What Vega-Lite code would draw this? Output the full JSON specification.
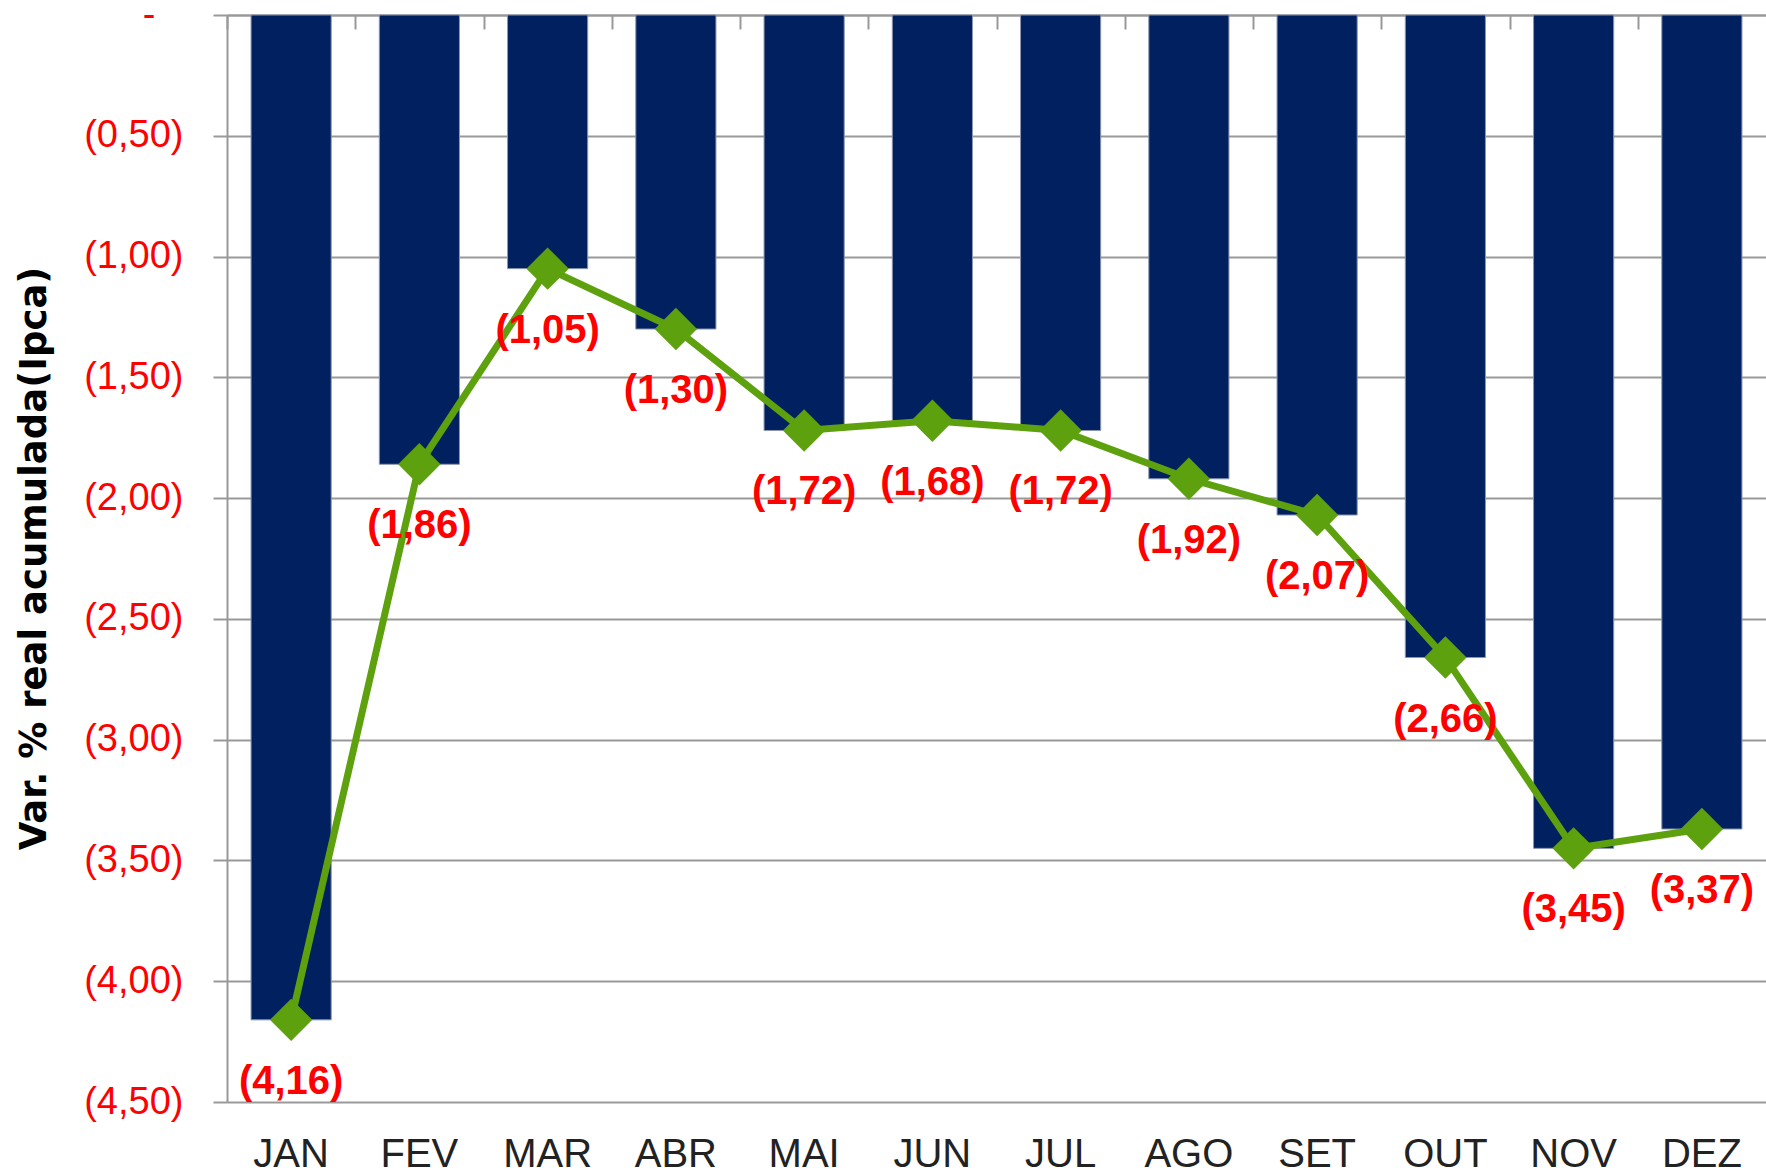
{
  "$schema": "https://vega.github.io/schema/vega-lite/v6.json",
  "width": 1539,
  "height": 1087,
  "autosize": {"type": "none"},
  "padding": {"left": 227, "top": 15, "right": 0, "bottom": 71},
  "background": "white",
  "config": {"view": {"stroke": null}},
  "data": {
    "values": [
      {"mes": "JAN", "valor": -4.16, "label": "(4,16)"},
      {"mes": "FEV", "valor": -1.86, "label": "(1,86)"},
      {"mes": "MAR", "valor": -1.05, "label": "(1,05)"},
      {"mes": "ABR", "valor": -1.30, "label": "(1,30)"},
      {"mes": "MAI", "valor": -1.72, "label": "(1,72)"},
      {"mes": "JUN", "valor": -1.68, "label": "(1,68)"},
      {"mes": "JUL", "valor": -1.72, "label": "(1,72)"},
      {"mes": "AGO", "valor": -1.92, "label": "(1,92)"},
      {"mes": "SET", "valor": -2.07, "label": "(2,07)"},
      {"mes": "OUT", "valor": -2.66, "label": "(2,66)"},
      {"mes": "NOV", "valor": -3.45, "label": "(3,45)"},
      {"mes": "DEZ", "valor": -3.37, "label": "(3,37)"}
    ]
  },
  "resolve": {"axis": {"x": "independent"}},
  "layer": [
    {
      "mark": {"type": "bar", "color": "#002060", "stroke": "#8c96b0", "strokeWidth": 1},
      "encoding": {
        "x": {
          "field": "mes", "type": "nominal", "sort": null,
          "scale": {"paddingInner": 0.375, "paddingOuter": 0.1875},
          "axis": {
            "orient": "bottom", "title": null, "domain": false, "ticks": false, "tickSize": 0,
            "labelAngle": 0, "labelFont": "Liberation Sans", "labelFontSize": 40,
            "labelColor": "#222222", "labelBaseline": "alphabetic", "labelPadding": 64
          }
        },
        "y": {
          "field": "valor", "type": "quantitative",
          "scale": {"domain": [-4.5, 0], "nice": false, "zero": false},
          "axis": {
            "title": "Var. % real acumulada(Ipca)",
            "titleFont": "DejaVu Sans", "titleFontWeight": "bold", "titleFontSize": 37,
            "titleColor": "#000000", "titleAngle": -90, "titleX": -193, "titleY": 543,
            "titleBaseline": "middle", "titleAlign": "center",
            "values": [0, -0.5, -1, -1.5, -2, -2.5, -3, -3.5, -4, -4.5],
            "labelExpr": "datum.value == 0 ? '-\u2800' : '(' + replace(format(-datum.value, '.2f'), '.', ',') + ')'",
            "labelColor": "#FF0000", "labelFont": "Liberation Sans", "labelFontSize": 38,
            "labelPadding": 30,
            "domain": true, "domainColor": "#999999", "domainWidth": 2,
            "ticks": true, "tickSize": 14, "tickColor": "#999999", "tickWidth": 2,
            "grid": true, "gridColor": "#999999", "gridWidth": 2
          }
        }
      }
    },
    {
      "mark": {"type": "line", "color": "#5EA10E", "strokeWidth": 7},
      "encoding": {
        "x": {
          "field": "mes", "type": "nominal", "sort": null,
          "axis": {
            "orient": "top", "title": null, "labels": false,
            "domain": true, "domainColor": "#999999", "domainWidth": 2,
            "ticks": true, "tickSize": -14, "tickColor": "#999999", "tickWidth": 2,
            "bandPosition": 0.5, "tickOffset": -64.125, "grid": false
          }
        },
        "y": {"field": "valor", "type": "quantitative"}
      }
    },
    {
      "mark": {"type": "point", "shape": "diamond", "filled": true, "size": 1800, "color": "#5EA10E", "opacity": 1},
      "encoding": {
        "x": {"field": "mes", "type": "nominal", "sort": null, "axis": null},
        "y": {"field": "valor", "type": "quantitative"}
      }
    },
    {
      "mark": {"type": "text", "dy": 62, "baseline": "middle", "align": "center", "font": "Liberation Sans", "fontWeight": "bold", "fontSize": 40, "color": "#FF0000"},
      "encoding": {
        "x": {"field": "mes", "type": "nominal", "sort": null, "axis": null},
        "y": {"field": "valor", "type": "quantitative"},
        "text": {"field": "label"}
      }
    }
  ]
}
